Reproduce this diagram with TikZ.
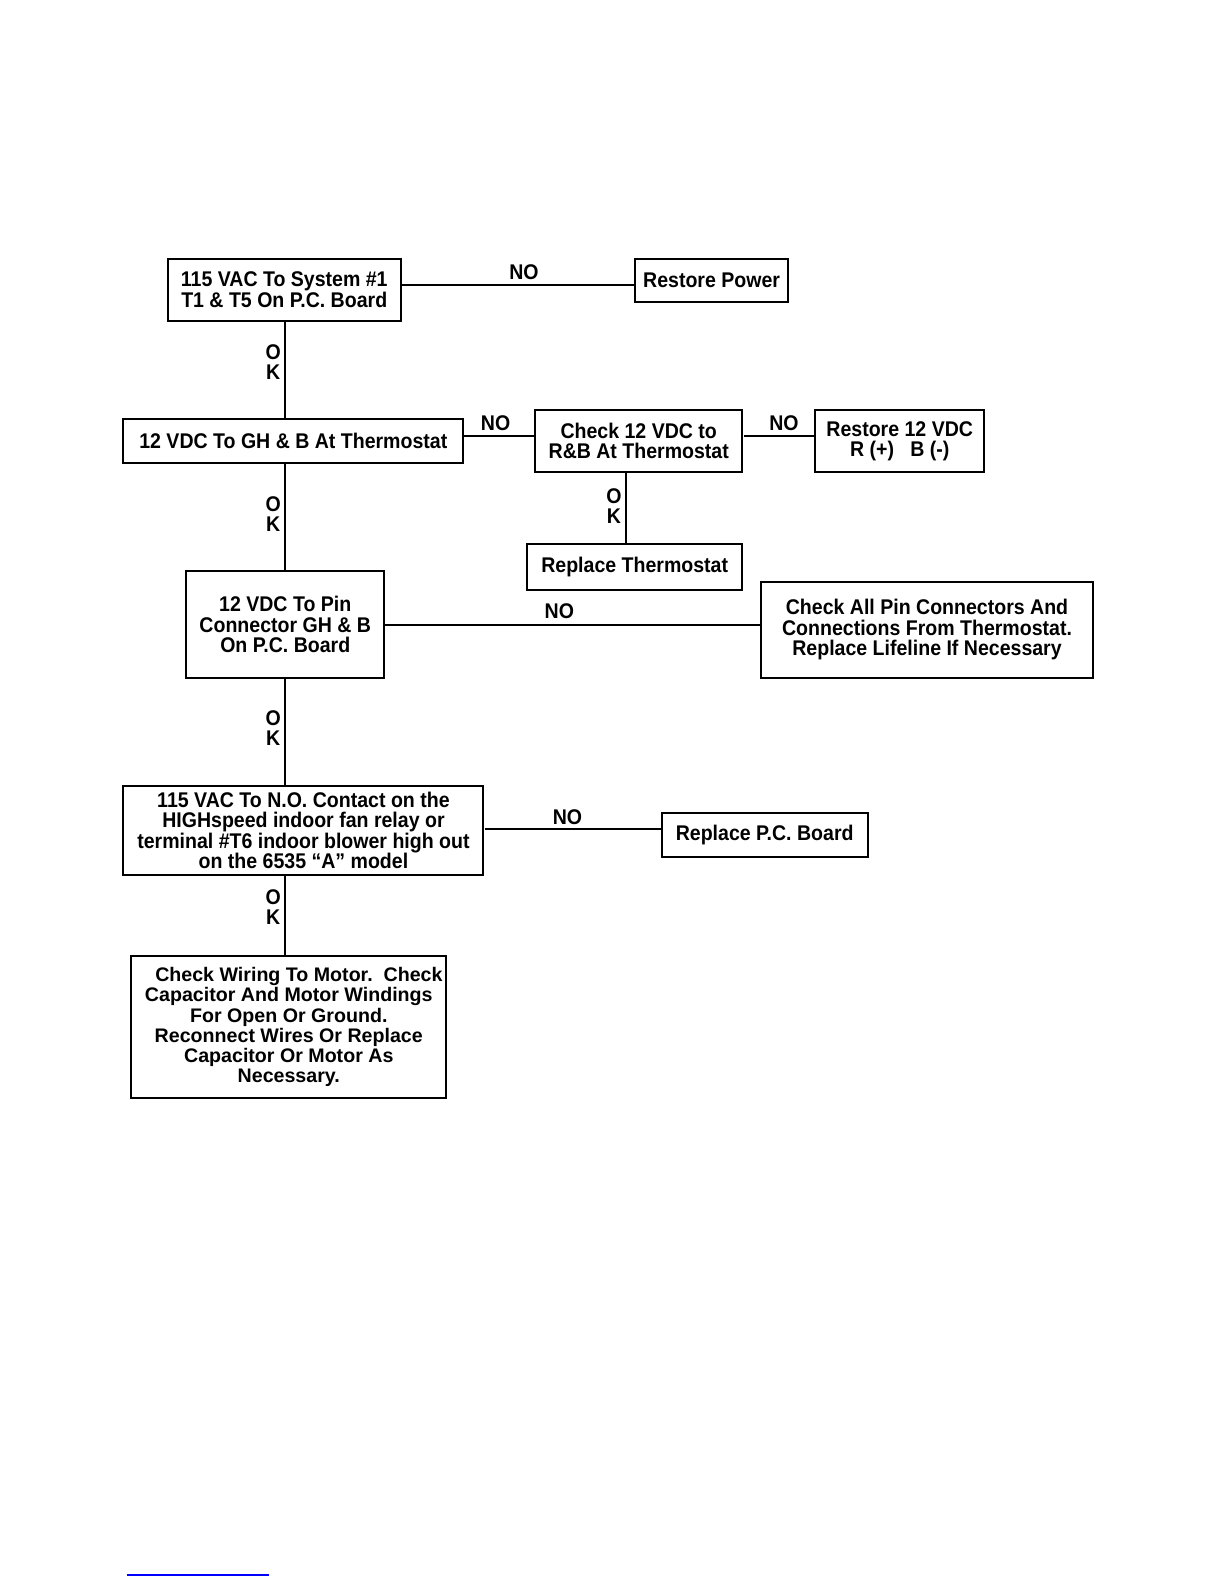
\documentclass[tikz,border=0pt]{standalone}
\usepackage{fontspec}
\setmainfont{Liberation Sans}
\newfontfamily\chartfont[FakeStretch=0.92]{Liberation Sans}
\begin{document}
\begin{tikzpicture}[x=0.5pt,y=-0.5pt,scale=1.0115,line width=1pt,
  box/.style={draw,align=center,inner sep=0pt,transform shape,font=\chartfont\bfseries\fontsize{10.5pt}{10pt}\selectfont},
  lbl/.style={align=center,inner sep=0pt,transform shape,font=\chartfont\bfseries\fontsize{10.5pt}{10pt}\selectfont}]
\useasboundingbox (0,0) rectangle (1211,1567);
\coordinate (trunk) at (282,0);
% boxes
\node[box,minimum width=115pt,minimum height=30.5pt] (power) at (281,286.5) {115 VAC To System \#1\\T1 \& T5 On P.C. Board};
\node[box,minimum width=75.5pt,minimum height=21.5pt] (restpower) at (703.5,277.5) {Restore Power};
\node[box,minimum width=168pt,minimum height=22pt] (ghb) at (290,436) {12 VDC To GH \& B At Thermostat};
\node[box,minimum width=102.5pt,minimum height=31pt] (rb) at (631.5,436) {Check 12 VDC to\\R\&B At Thermostat};
\node[box,minimum width=83.5pt,minimum height=31pt] (rest12) at (889.5,436) {Restore 12 VDC\\R (+)\ \ \ B (-)};
\node[box,minimum width=106.5pt,minimum height=22.5pt] (thermo) at (627.5,560.5) {Replace Thermostat};
\node[box,minimum width=98pt,minimum height=52.5pt] (pin) at (282,617.5) {12 VDC To Pin\\Connector GH \& B\\On P.C. Board};
\node[box,minimum width=164.5pt,minimum height=47.5pt] (conn) at (916.5,622.5) {Check All Pin Connectors And\\Connections From Thermostat.\\Replace Lifeline If Necessary};
\node[box,minimum width=178pt,minimum height=44pt] (contact) at (300,821) {115 VAC To N.O. Contact on the\\HIGHspeed indoor fan relay or\\terminal \#T6 indoor blower high out\\on the 6535 “A” model};
\node[box,minimum width=102pt,minimum height=21.5pt] (board) at (756,825.5) {Replace P.C. Board};
\node[box,minimum width=155.5pt,minimum height=70.5pt,font=\bfseries\fontsize{9.7pt}{10pt}\selectfont] (motor) at (285.5,1015.5) {\hspace*{10pt}Check Wiring To Motor.\ \ Check\\Capacitor And Motor Windings\\For Open Or Ground.\\Reconnect Wires Or Replace\\Capacitor Or Motor As\\Necessary.};
% NO branches
\draw (power.east |- 0,282) -- (restpower.west |- 0,282);
\node[lbl] (no1) at (518,269) {NO};
\draw (ghb.east |- 0,431) -- (rb.west |- 0,431);
\node[lbl] (no2) at (490,418) {NO};
\draw (rb.east |- 0,431) -- (rest12.west |- 0,431);
\node[lbl] (no3) at (775,418) {NO};
\draw (pin.east) -- (pin.east -| conn.west);
\node[lbl] (no4) at (553,604) {NO};
\draw (contact.east |- 0,820) -- (board.west |- 0,820);
\node[lbl] (no5) at (561,808) {NO};
% OK branches
\draw (power.south -| trunk) -- (ghb.north -| trunk);
\node[lbl] (ok1) at (270,358) {O\\K};
\draw (ghb.south -| trunk) -- (pin.north -| trunk);
\node[lbl] (ok2) at (270,508) {O\\K};
\draw (pin.south -| trunk) -- (contact.north -| trunk);
\node[lbl] (ok3) at (270,720) {O\\K};
\draw (contact.south -| trunk) -- (motor.north -| trunk);
\node[lbl] (ok4) at (270,897) {O\\K};
\draw (rb.south -| 619,0) -- (thermo.north -| 619,0);
\node[lbl] (ok5) at (607,500) {O\\K};
\draw[blue,line width=0.6pt] (125.6,1557) -- (266,1557);
\end{tikzpicture}
\end{document}
